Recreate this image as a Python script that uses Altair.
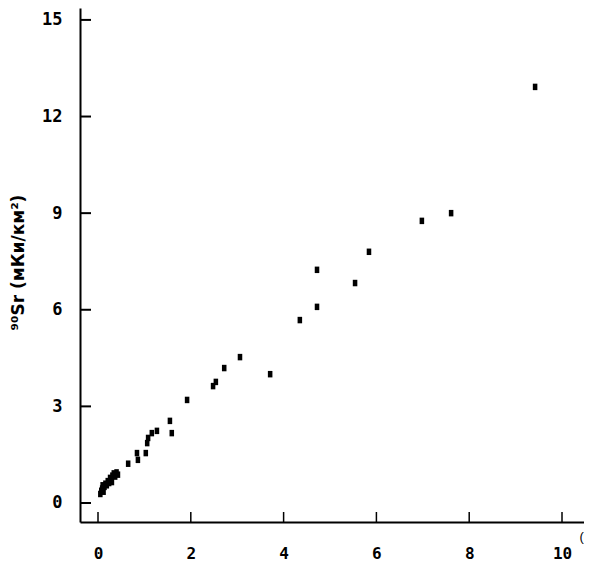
import altair as alt
import pandas as pd

# Data
x_vals = [0.05, 0.07, 0.09, 0.10, 0.12, 0.14, 0.16, 0.19, 0.21, 0.24, 0.26, 0.29,
          0.31, 0.34, 0.37, 0.40, 0.43, 0.30,
          0.65, 0.86, 0.84, 1.03, 1.06, 1.08, 1.16, 1.27, 1.55, 1.59, 1.92,
          2.48, 2.54, 2.72, 3.06, 3.71, 4.35, 4.72, 4.72, 5.54, 5.84, 6.98, 7.61, 9.42]
y_vals = [0.28, 0.38, 0.45, 0.55, 0.35, 0.50, 0.60, 0.55, 0.68, 0.62, 0.78, 0.72,
          0.85, 0.92, 0.82, 0.95, 0.88, 0.65,
          1.22, 1.34, 1.55, 1.55, 1.86, 2.02, 2.17, 2.24, 2.55, 2.17, 3.20,
          3.63, 3.76, 4.19, 4.53, 4.00, 5.68, 6.09, 7.24, 6.83, 7.80, 8.76, 9.00, 12.92]
x_ticks = [0, 2, 4, 6, 8, 10]
y_ticks = [0, 3, 6, 9, 12, 15]
y_title = "⁹⁰Sr (мКи/км²)"

df = pd.DataFrame({"x": x_vals, "y": y_vals})
xt = pd.DataFrame({"x": x_ticks})
yt = pd.DataFrame({"y": y_ticks})

W, H = 504, 514
xs = alt.Scale(domain=[-0.388, 10.474], nice=False, zero=False)
ys = alt.Scale(domain=[-0.59, 15.37], nice=False, zero=False)

LABEL_FONT = "DejaVu Sans Mono, monospace"

x_axis = alt.Axis(
    values=x_ticks, ticks=False, grid=False, domainColor="black",
    domainWidth=2, labelFont=LABEL_FONT, labelFontSize=16,
    labelFontWeight="bold", labelColor="black", labelPadding=23,
    title="(", titleX=499, titleY=14, titleAlign="left",
    titleBaseline="middle", titleFontSize=13, titleFontWeight="normal",
    titleColor="black")
y_axis = alt.Axis(
    values=y_ticks, ticks=False, grid=False, domainColor="black",
    domainWidth=2, labelFont=LABEL_FONT, labelFontSize=17,
    labelFontWeight="bold", labelColor="black", labelPadding=18,
    title=y_title, titleX=-62, titleY=254, titleAngle=-90,
    titleAlign="center", titleBaseline="middle",
    titleFont="DejaVu Sans, sans-serif", titleFontSize=17,
    titleFontWeight="bold", titleColor="black")

points = alt.Chart(df).mark_point(
    shape="M-0.7,-1L0.7,-1L0.7,1L-0.7,1Z", filled=True, size=42,
    color="black", opacity=1
).encode(
    x=alt.X("x:Q", scale=xs, axis=x_axis),
    y=alt.Y("y:Q", scale=ys, axis=y_axis),
)

ytick_marks = alt.Chart(yt).mark_rule(color="black", strokeWidth=2).encode(
    y=alt.Y("y:Q", scale=ys, axis=y_axis),
    x=alt.value(0), x2=alt.value(11),
)
xtick_marks = alt.Chart(xt).mark_rule(color="black", strokeWidth=1.5).encode(
    x=alt.X("x:Q", scale=xs, axis=x_axis),
    y=alt.value(H - 10), y2=alt.value(H),
)

chart = alt.layer(points, ytick_marks, xtick_marks).properties(
    width=W, height=H,
    autosize=alt.AutoSizeParams(type="none"),
    padding={"left": 72, "top": 0, "right": 0, "bottom": 43},
    background="white",
).configure_view(stroke=None)

chart.save("out.html", embed_options={"renderer": "svg", "actions": False})
